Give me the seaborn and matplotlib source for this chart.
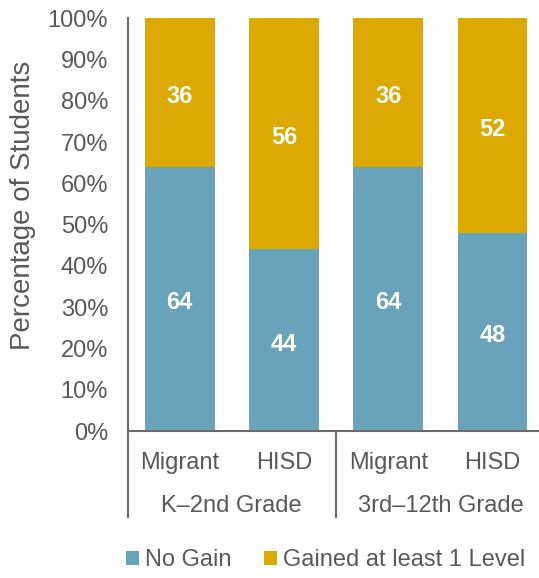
import matplotlib
matplotlib.use("Agg")
import matplotlib.pyplot as plt
import matplotlib.transforms as mtransforms
from matplotlib.patches import Patch
import seaborn as sns
import pandas as pd

# ---- data ----
groups = ["K–2nd Grade", "K–2nd Grade", "3rd–12th Grade", "3rd–12th Grade"]
subgroups = ["Migrant", "HISD", "Migrant", "HISD"]
no_gain = [64, 44, 64, 48]
gained = [36, 56, 36, 52]
group_labels = ["K–2nd Grade", "3rd–12th Grade"]
series_names = ["No Gain", "Gained at least 1 Level"]
yticks = list(range(0, 101, 10))

BLUE = "#68A3BA"
GOLD = "#DBA900"
TEXT = "#595959"
LINE = "#6B6B6B"

sns.set_style("white")
plt.rcParams["font.family"] = ["Liberation Sans", "DejaVu Sans"]

df = pd.DataFrame({
    "bar": [f"{g}|{s}" for g, s in zip(groups, subgroups)],
    "No Gain": no_gain,
    "Gained": gained,
})
df["total"] = df["No Gain"] + df["Gained"]
order = list(df["bar"])

W, H = 539, 578
fig = plt.figure(figsize=(W / 100, H / 100), dpi=100)
left, right_px, top_px, bot_px = 127.5, 539, 18.3, 431
ax = fig.add_axes([left / W, 1 - bot_px / H, (right_px - left) / W, (bot_px - top_px) / H])

sns.barplot(data=df, x="bar", y="total", order=order, color=GOLD, width=0.67,
            saturation=1, ax=ax, edgecolor="none")
sns.barplot(data=df, x="bar", y="No Gain", order=order, color=BLUE, width=0.67,
            saturation=1, ax=ax, edgecolor="none")

spacing = 104.3
ax.set_xlim(-0.5, -0.5 + (right_px - left) / spacing)
ax.set_ylim(0, 100)
ax.set_yticks(yticks)
ax.set_yticklabels([f"{t}%" for t in yticks], fontsize=17, color=TEXT)
ax.tick_params(axis="y", length=0, pad=14)
ax.set_xticks(range(len(order)))
ax.set_xticklabels([])
ax.tick_params(axis="x", length=0)
ax.set_xlabel("")
ax.set_ylabel("")

for s in ["top", "right"]:
    ax.spines[s].set_visible(False)
for s in ["left", "bottom"]:
    ax.spines[s].set_color(LINE)
    ax.spines[s].set_linewidth(1.5)

# data labels
lab_off = mtransforms.offset_copy(ax.transData, fig=fig, x=0, y=-4, units="dots")
for i, (ng, g) in enumerate(zip(no_gain, gained)):
    ax.text(i, ng / 2, f"{ng}", ha="center", va="center", color="white",
            fontsize=17, fontweight="bold", transform=lab_off)
    ax.text(i, ng + g / 2, f"{g}", ha="center", va="center", color="white",
            fontsize=17, fontweight="bold", transform=lab_off)

# category axis labels
trans = mtransforms.blended_transform_factory(ax.transData, ax.transAxes)
ah = bot_px - top_px
y_sub = (bot_px - 469) / ah
y_grp = (bot_px - 511.7) / ah
y_sep = (bot_px - 518) / ah
for i, s in enumerate(subgroups):
    ax.text(i, y_sub, s, transform=trans, ha="center", va="baseline",
            fontsize=17, color=TEXT)
for k, gl in enumerate(group_labels):
    ax.text(2 * k + 0.5, y_grp, gl, transform=trans, ha="center", va="baseline",
            fontsize=17, color=TEXT)
for xs in [-0.5, 1.5]:
    ax.plot([xs, xs], [0, y_sep], transform=trans, color=LINE, lw=1.5,
            clip_on=False, solid_capstyle="butt")

fig.text(23 / W, 1 - 205 / H, "Percentage of Students", rotation=90,
         ha="center", va="center", fontsize=20, color=TEXT)

handles = [Patch(facecolor=BLUE, edgecolor="none"), Patch(facecolor=GOLD, edgecolor="none")]
leg = fig.legend(handles, series_names, loc="center left",
                 bbox_to_anchor=(126 / W, 1 - 560.5 / H), ncol=2, frameon=False,
                 fontsize=17, handlelength=0.55, handleheight=0.55,
                 handletextpad=0.25, columnspacing=1.4, borderpad=0,
                 borderaxespad=0)
for t in leg.get_texts():
    t.set_color(TEXT)

fig.savefig("out.png", dpi=100)
